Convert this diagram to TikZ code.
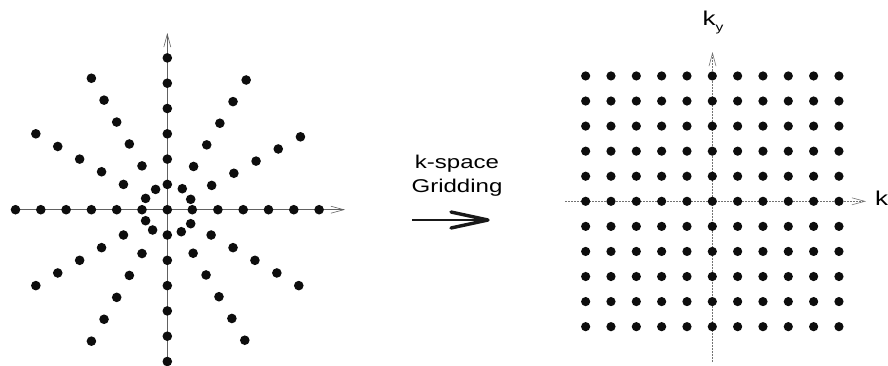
\documentclass[tikz,border=0pt]{standalone}
\usepackage{fontspec}
\newfontfamily\lbl{Liberation Sans}[FakeStretch=1.3]
\usetikzlibrary{arrows.meta}
\tikzset{
  dot/.style={circle,fill=black!95,draw=none,inner sep=0pt,minimum size=9.6pt},
  axisL/.style={draw=black!62,line width=0.9pt,-{Straight Barb[length=13pt,width=7pt,line width=0.6pt]}},
  axisR/.style={draw=black!55,line width=0.8pt,dash pattern=on 2pt off 1pt,-{Straight Barb[length=13pt,width=7pt,line width=0.6pt]}},
  lbltext/.style={inner sep=0pt,font=\lbl},
}
\begin{document}
\begin{tikzpicture}[x=1pt,y=-1pt]
\useasboundingbox (0,0) rectangle (888,365);
% ---- left: radial sampling ----
\coordinate (LxA) at (11,209.7);
\coordinate (LxB) at (345,209.7);
\coordinate (LyA) at (167.3,366);
\coordinate (LyB) at (167.3,33);
\draw[axisL] (LxA) -- (LxB);
\draw[axisL] (LyA) -- (LyB);
\node[dot] (L0) at (167.3,209.7) {};
\foreach \dx/\dy [count=\m] in {25/0,23.4/10.4,15/21,0/25.3,-11.7/20.3,-21.7/11.3,-25.3/0,-21.7/-11,-14.7/-20.3,0/-25.3,14/-22,23.4/-14}
  \node[dot] (L-\m-1) at ({167.3+\dx},{209.7-\dy}) {};
\foreach \a [count=\m] in {0,28.7,58.7,90,120,150,180,210,240,270,300.7,330}
  \foreach \k in {2,...,6}
    \node[dot] (L-\m-\k) at ({167.3+\k*25.3*cos(\a)},{209.7-\k*25.3*sin(\a)}) {};
% ---- middle ----
\node[lbltext,font=\lbl\fontsize{18.5}{20}\selectfont,anchor=base] (t1) at (457,168.3) {k-space};
\node[lbltext,font=\lbl\fontsize{18.5}{20}\selectfont,anchor=base] (t2) at (457,192) {Gridding};
\coordinate (A1) at (412,220);
\coordinate (A2) at (488,220);
\coordinate (H1) at (451,212);
\coordinate (H2) at (451,228);
\draw[line width=2.8pt,black!90] (A1) -- (A2);
\draw[line width=3.4pt,black!90,line join=round,line cap=round] (H1) -- (A2) -- (H2);
% ---- right: Cartesian grid ----
\coordinate (GxA) at (565,201.3);
\coordinate (GxB) at (866,201.3);
\coordinate (GyA) at (712.5,362);
\coordinate (GyB) at (712.5,52);
\draw[axisR] (GxA) -- (GxB);
\draw[axisR] (GyA) -- (GyB);
\foreach \i in {0,...,10}
  \foreach \j in {0,...,10}
    \node[dot,minimum size=9.2pt] (G-\i-\j) at ({712.3+(\i-5)*25.33},{201.3+(\j-5)*25.07}) {};
\node[lbltext,font=\lbl\fontsize{20}{20}\selectfont,anchor=base west] (ky) at (702.5,25) {k\raisebox{-6pt}{\fontsize{12}{12}\selectfont y}};
\node[lbltext,font=\lbl\fontsize{20}{20}\selectfont,anchor=base west] (kx) at (875,205) {k};
\end{tikzpicture}
\end{document}
